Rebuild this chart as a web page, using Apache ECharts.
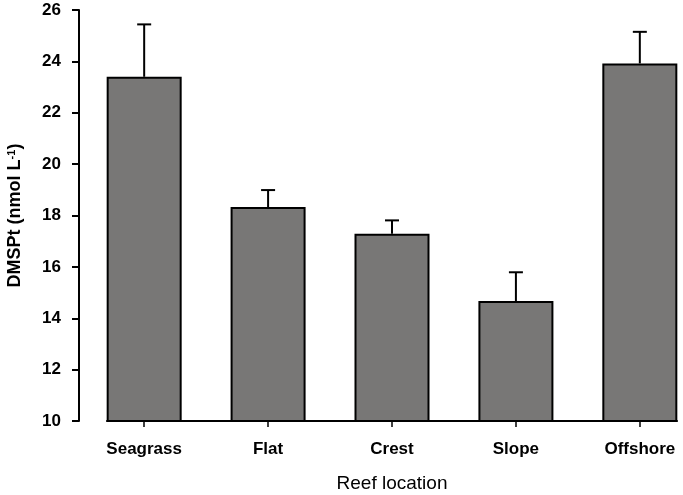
<!DOCTYPE html>
<html>
<head>
<meta charset="utf-8">
<script src="https://cdn.jsdelivr.net/npm/echarts@6/dist/echarts.min.js"></script>
<style>
html,body{margin:0;padding:0;background:#fff;}
#chart{width:683px;height:495px;}
</style>
</head>
<body>
<div id="chart"></div>
<script>
const categories = ['Seagrass', 'Flat', 'Crest', 'Slope', 'Offshore'];
const means = [23.40, 18.33, 17.29, 14.67, 23.92];
const upperErrors = [2.04, 0.66, 0.52, 1.12, 1.23];
const yTicks = [10, 12, 14, 16, 18, 20, 22, 24, 26];

const positions = categories.map((c, i) => i);
const FONT = 'Liberation Sans, Arial, sans-serif';

const chart = echarts.init(document.getElementById('chart'), null, {renderer: 'canvas'});
chart.setOption({
  backgroundColor: '#fff',
  animation: false,
  grid: {left: 107, right: 6, top: 10, bottom: 74, containLabel: false, outerBoundsMode: 'none'},
  xAxis: {
    type: 'value',
    min: -0.3,
    max: 4.3,
    axisLine: {show: true, onZero: false, lineStyle: {color: '#000', width: 2}},
    axisTick: {show: true, inside: false, customValues: positions, length: 6, lineStyle: {color: '#000', width: 1.5}},
    axisLabel: {
      customValues: positions,
      formatter: v => categories[Math.round(v)],
      color: '#000', fontFamily: FONT, fontWeight: 'bold', fontSize: 17, margin: 20
    },
    splitLine: {show: false},
    name: 'Reef location',
    nameLocation: 'middle',
    nameGap: 53,
    nameTextStyle: {color: '#000', fontFamily: FONT, fontSize: 19, fontWeight: 'normal'}
  },
  yAxis: {
    type: 'value',
    min: yTicks[0],
    max: yTicks[yTicks.length - 1],
    interval: yTicks[1] - yTicks[0],
    offset: 28,
    axisLine: {show: true, onZero: false, lineStyle: {color: '#000', width: 2}},
    axisTick: {show: true, length: 7, lineStyle: {color: '#000', width: 2}},
    axisLabel: {color: '#000', fontFamily: FONT, fontWeight: 'bold', fontSize: 17, margin: 18},
    splitLine: {show: false},
    name: 'DMSPt (nmol L{sup|-1})',
    nameLocation: 'middle',
    nameRotate: 90,
    nameGap: 55,
    nameTextStyle: {
      color: '#000', fontFamily: FONT, fontWeight: 'bold', fontSize: 18,
      rich: {
        sup: {fontFamily: FONT, fontWeight: 'bold', fontSize: 11, verticalAlign: 'top', color: '#000'}
      }
    }
  },
  series: [
    {
      type: 'bar',
      data: positions.map((p, i) => [p, means[i]]),
      barWidth: 75,
      itemStyle: {color: '#787776', borderColor: '#000', borderWidth: 2}
    },
    {
      type: 'custom',
      data: positions.map((p, i) => [p, means[i], means[i] + upperErrors[i]]),
      z: 3,
      renderItem: function (params, api) {
        const x = api.value(0);
        const base = api.coord([x, api.value(1)]);
        const top = api.coord([x, api.value(2)]);
        const half = 7;
        const style = {stroke: '#000', lineWidth: 2};
        return {
          type: 'group',
          children: [
            {type: 'line', shape: {x1: base[0], y1: base[1], x2: top[0], y2: top[1]}, style: style},
            {type: 'line', shape: {x1: top[0] - half, y1: top[1], x2: top[0] + half, y2: top[1]}, style: style}
          ]
        };
      }
    }
  ]
});
</script>
</body>
</html>
